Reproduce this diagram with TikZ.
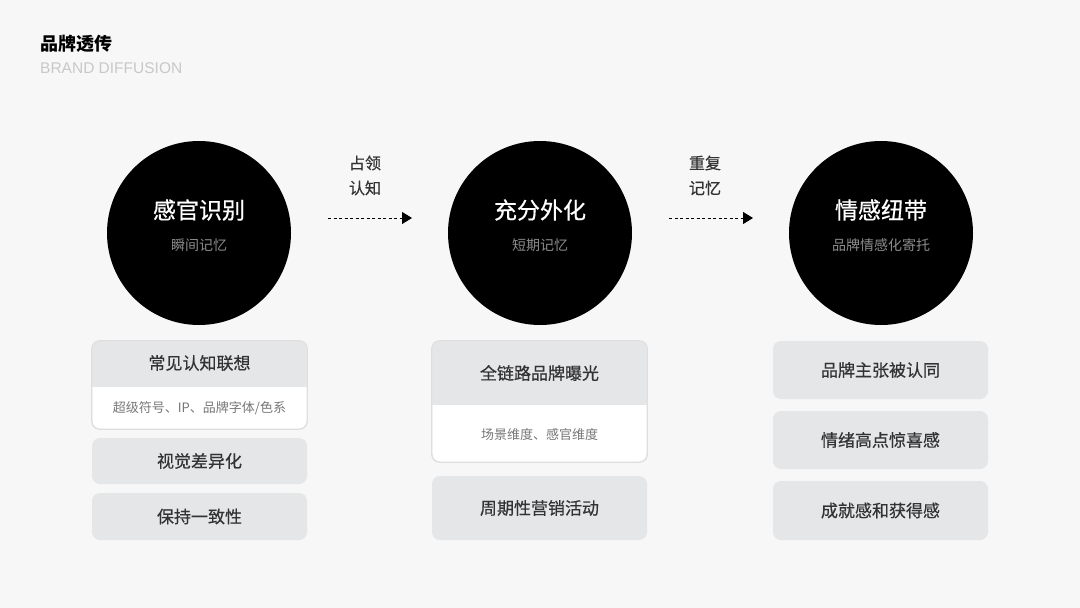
\documentclass[tikz,border=0pt]{standalone}
\usepackage{fontspec}
\setmainfont{Noto Sans CJK SC}
\newfontfamily\medfont[FakeBold=0.5]{Noto Sans CJK SC}
\newfontfamily\latinfont{Liberation Sans}
\usetikzlibrary{arrows.meta}
\definecolor{bg}{HTML}{F7F7F7}
\definecolor{boxgray}{HTML}{E5E6E8}
\definecolor{cardline}{HTML}{DEDEDE}
\definecolor{txt}{HTML}{333333}
\definecolor{subtxt}{HTML}{777777}
\definecolor{circsub}{HTML}{8C8C8C}
\definecolor{entitle}{HTML}{C8C8C8}
\tikzset{
  stage/.style={circle, fill=black, minimum size=184pt, inner sep=0pt},
  stagetitle/.style={text=white, font=\medfont\fontsize{23}{26}\selectfont, inner sep=0pt},
  stagesub/.style={text=circsub, font=\fontsize{14}{16}\selectfont, inner sep=0pt},
  item/.style={fill=boxgray, rounded corners=8pt, minimum width=215pt, inner sep=0pt},
  itemtext/.style={text=txt, font=\medfont\fontsize{17}{20}\selectfont, inner sep=0pt},
  cardsub/.style={text=subtxt, font=\fontsize{13}{15}\selectfont, inner sep=0pt},
  flow/.style={dashed, dash pattern=on 3pt off 2.5pt, line width=1pt, -{Triangle[length=10pt,width=12pt]}},
  flowlabel/.style={text=txt, font=\medfont\fontsize{16}{18}\selectfont, align=center, inner sep=0pt}
}
\begin{document}
\begin{tikzpicture}[x=1pt,y=-1pt]
\fill[bg] (0,0) rectangle (1080,608);
\useasboundingbox (0,0) rectangle (1080,608);
% header
\node[anchor=west, inner sep=0pt, font=\fontsize{18}{20}\selectfont\bfseries, text=black] (title) at (40,44) {品牌透传};
\node[anchor=west, inner sep=0pt, font=\latinfont\fontsize{15.5}{17}\selectfont, text=entitle] (entitle) at (40,68) {BRAND DIFFUSION};
% circles
\node[stage] (s1) at (199,233) {};
\node[stage] (s2) at (540,233) {};
\node[stage] (s3) at (881,233) {};
\node[stagetitle] (s1t) at (199,210) {感官识别};
\node[stagesub] (s1s) at (199,245) {瞬间记忆};
\node[stagetitle] (s2t) at (540,210) {充分外化};
\node[stagesub] (s2s) at (540,245) {短期记忆};
\node[stagetitle] (s3t) at (881,210) {情感纽带};
\node[stagesub] (s3s) at (881,245) {品牌情感化寄托};
% arrows
\coordinate (a1s) at (328,218);
\coordinate (a1e) at (412,218);
\coordinate (a2s) at (669,218);
\coordinate (a2e) at (753,218);
\draw[flow] (a1s) -- (a1e);
\draw[flow] (a2s) -- (a2e);
\node[flowlabel] (l1a) at (365,163) {占领};
\node[flowlabel] (l1b) at (365,188) {认知};
\node[flowlabel] (l2a) at (705,163) {重复};
\node[flowlabel] (l2b) at (705,188) {记忆};
% column 1
\node[fill=white, draw=cardline, line width=0.8pt, rounded corners=8pt, minimum width=215pt, minimum height=88pt] (c1) at (199.5,385) {};
\begin{scope}
\clip[rounded corners=8pt] (c1.north west) rectangle (c1.south east);
\fill[boxgray] (c1.north west) rectangle (307,387);
\end{scope}
\draw[cardline, line width=0.8pt, rounded corners=8pt] (c1.north west) rectangle (c1.south east);
\node[itemtext] (c1t) at (199.5,363) {常见认知联想};
\node[cardsub] (c1s) at (199.5,408) {超级符号、IP、品牌字体/色系};
\node[item, minimum height=46pt] (b12) at (199.5,461) {};
\node[itemtext] at (b12) {视觉差异化};
\node[item, minimum height=47pt] (b13) at (199.5,516.5) {};
\node[itemtext] at (b13) {保持一致性};
% column 2
\node[fill=white, draw=cardline, line width=0.8pt, rounded corners=8pt, minimum width=215pt, minimum height=121pt] (c2) at (539.5,401.5) {};
\begin{scope}
\clip[rounded corners=8pt] (c2.north west) rectangle (c2.south east);
\fill[boxgray] (c2.north west) rectangle (647,405);
\end{scope}
\draw[cardline, line width=0.8pt, rounded corners=8pt] (c2.north west) rectangle (c2.south east);
\node[itemtext] (c2t) at (539.5,373) {全链路品牌曝光};
\node[cardsub] (c2s) at (539.5,435) {场景维度、感官维度};
\node[item, minimum height=64pt] (b22) at (539.5,508) {};
\node[itemtext] at (b22) {周期性营销活动};
% column 3
\node[item, minimum height=58pt] (b31) at (880.5,370) {};
\node[itemtext] at (b31) {品牌主张被认同};
\node[item, minimum height=58pt] (b32) at (880.5,440) {};
\node[itemtext] at (b32) {情绪高点惊喜感};
\node[item, minimum height=59pt] (b33) at (880.5,510.5) {};
\node[itemtext] at (b33) {成就感和获得感};
\end{tikzpicture}
\end{document}
